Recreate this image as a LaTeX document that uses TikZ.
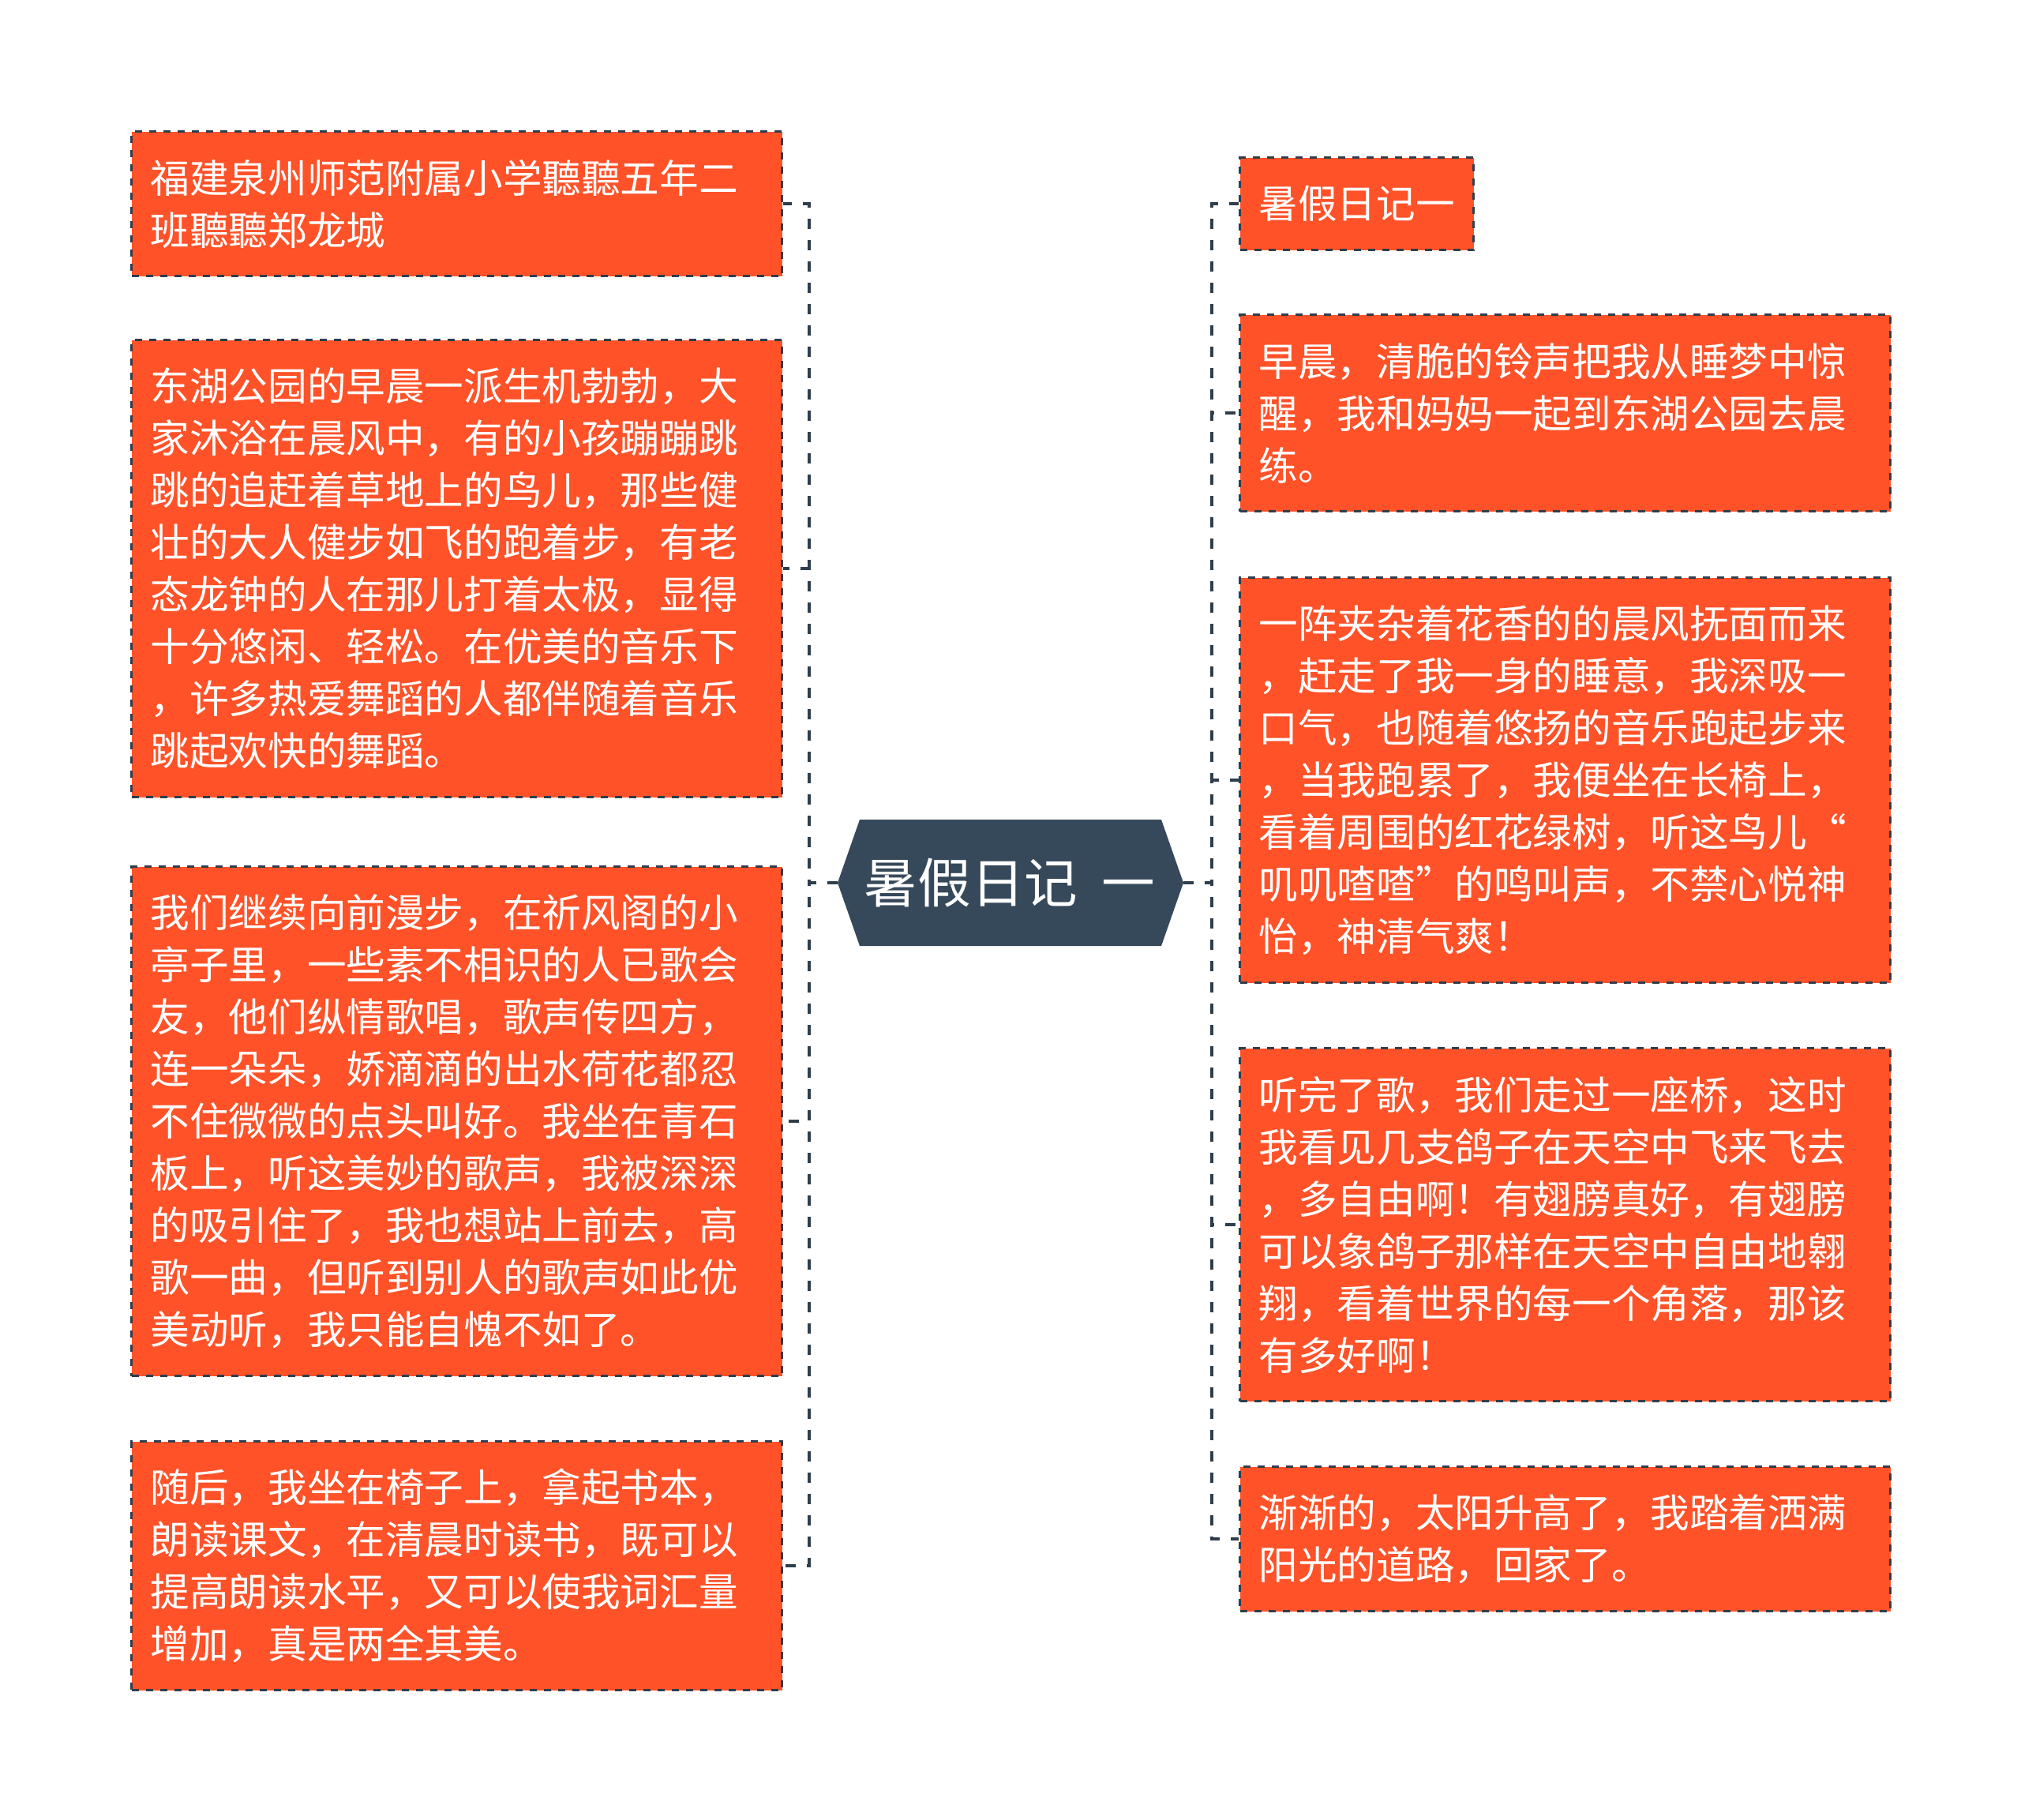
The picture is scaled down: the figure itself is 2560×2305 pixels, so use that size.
\documentclass[tikz,border=0pt]{standalone}
\usepackage{fontspec}
\setmainfont{Noto Sans CJK SC}
\definecolor{boxfill}{HTML}{FF5229}
\definecolor{dashc}{HTML}{2F3E4C}
\definecolor{hexfill}{HTML}{36495A}
\begin{document}
\begin{tikzpicture}[x=0.5pt,y=-0.5pt,
  leaf/.style={draw=dashc, line width=1.6pt, dash pattern=on 4.5pt off 4.5pt,
    fill=boxfill, text=white, anchor=north west, inner xsep=12pt, inner ysep=0pt,
    font=\fontsize{24.8pt}{33pt}\selectfont, align=left},
  wide/.style={leaf, text width=388pt, minimum width=412pt},
  conn/.style={draw=dashc, line width=2pt, dash pattern=on 6.5pt off 7pt}]
\useasboundingbox (0,0) rectangle (2560,2305);
\fill[white] (0,0) rectangle (2560,2305);

% central hexagon
\coordinate (cW) at (1061,1118);
\coordinate (cE) at (1499,1118);
\fill[hexfill] (cW) -- (1089,1038) -- (1471,1038) -- (cE) -- (1471,1198) -- (1089,1198) -- cycle;
\node[text=white, font=\fontsize{33.8pt}{40pt}\selectfont] (c) at (1279,1118) {暑假日记\hspace{0.45em}一};

% left boxes
\node[wide, minimum height=91.5pt] (L1) at (165,165) {福建泉州师范附属小学聽聽五年二\\班聽聽郑龙城};
\node[wide, minimum height=289.5pt] (L2) at (165,429) {东湖公园的早晨一派生机勃勃，大\\家沐浴在晨风中，有的小孩蹦蹦跳\\跳的追赶着草地上的鸟儿，那些健\\壮的大人健步如飞的跑着步，有老\\态龙钟的人在那儿打着太极，显得\\十分悠闲、轻松。在优美的音乐下\\，许多热爱舞蹈的人都伴随着音乐\\跳起欢快的舞蹈。};
\node[wide, minimum height=322.5pt] (L3) at (165,1096) {我们继续向前漫步，在祈风阁的小\\亭子里，一些素不相识的人已歌会\\友，他们纵情歌唱，歌声传四方，\\连一朵朵，娇滴滴的出水荷花都忍\\不住微微的点头叫好。我坐在青石\\板上，听这美妙的歌声，我被深深\\的吸引住了，我也想站上前去，高\\歌一曲，但听到别人的歌声如此优\\美动听，我只能自愧不如了。};
\node[wide, minimum height=157.5pt] (L4) at (165,1824) {随后，我坐在椅子上，拿起书本，\\朗读课文，在清晨时读书，既可以\\提高朗读水平，又可以使我词汇量\\增加，真是两全其美。};

% right boxes
\node[leaf, minimum height=58.5pt] (R1) at (1569,198) {暑假日记一};
\node[wide, minimum height=124.5pt] (R2) at (1569,397) {早晨，清脆的铃声把我从睡梦中惊\\醒，我和妈妈一起到东湖公园去晨\\练。};
\node[wide, minimum height=256.5pt] (R3) at (1569,730) {一阵夹杂着花香的的晨风抚面而来\\，赶走了我一身的睡意，我深吸一\\口气，也随着悠扬的音乐跑起步来\\，当我跑累了，我便坐在长椅上，\\看着周围的红花绿树，听这鸟儿“\\叽叽喳喳”的鸣叫声，不禁心悦神\\怡，神清气爽！};
\node[wide, minimum height=223.5pt] (R4) at (1569,1326) {听完了歌，我们走过一座桥，这时\\我看见几支鸽子在天空中飞来飞去\\，多自由啊！有翅膀真好，有翅膀\\可以象鸽子那样在天空中自由地翱\\翔，看着世界的每一个角落，那该\\有多好啊！};
\node[wide, minimum height=91.5pt] (R5) at (1569,1856) {渐渐的，太阳升高了，我踏着洒满\\阳光的道路，回家了。};

% connectors
\coordinate (jl) at (1025,1118);
\coordinate (jr) at (1535,1118);
\foreach \n in {L1,L2,L3,L4} \draw[conn] (cW) -- (jl) |- (\n.east);
\foreach \n in {R1,R2,R3,R4,R5} \draw[conn] (cE) -- (jr) |- (\n.west);
\end{tikzpicture}
\end{document}
